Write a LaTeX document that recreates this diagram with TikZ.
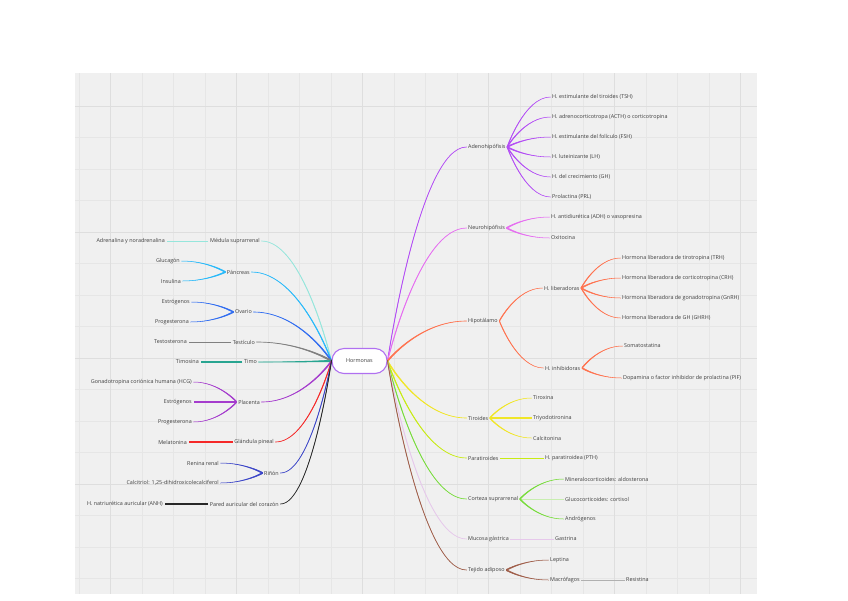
\documentclass[tikz,border=0pt]{standalone}
\usepackage{fontspec}
\setmainfont{Open Sans}
\usetikzlibrary{calc}
\definecolor{bg}{HTML}{F0F0F0}
\definecolor{gridc}{HTML}{E6E6E6}
\definecolor{gridm}{HTML}{DEDEDE}
\definecolor{txt}{HTML}{3E3E3E}
\definecolor{cHub}{HTML}{B070F0}
\definecolor{cAdeno}{HTML}{B34DF5}
\definecolor{cNeuro}{HTML}{E66EF0}
\definecolor{cHipo}{HTML}{FF7350}
\definecolor{cTiro}{HTML}{F0E628}
\definecolor{cPara}{HTML}{C8EB14}
\definecolor{cCort}{HTML}{78DC3C}
\definecolor{cCortL}{HTML}{C8EEB0}
\definecolor{cMuc}{HTML}{E6C8EB}
\definecolor{cAdip}{HTML}{A05F4B}
\definecolor{cMed}{HTML}{96E6DC}
\definecolor{cPan}{HTML}{28B9FA}
\definecolor{cOva}{HTML}{326EF0}
\definecolor{cTes}{HTML}{808080}
\definecolor{cTimo}{HTML}{28A591}
\definecolor{cPlac}{HTML}{A53CCD}
\definecolor{cPin}{HTML}{F52828}
\definecolor{cRin}{HTML}{3C46C8}
\definecolor{cCor}{HTML}{282828}
\definecolor{cRes}{HTML}{B0B0B0}
\begin{document}
\begin{tikzpicture}[x=1pt,y=-1pt,
  lbl/.style={font=\fontsize{5.4}{6.5}\selectfont, text=txt, inner sep=1.5pt},
  rl/.style={lbl, anchor=west},
  ll/.style={lbl, anchor=east},
  taper/.code={\def\tapw{#1}}, taper=1.3,
  br/.style={fill, line width=0.5pt, line join=round, to path={let \p1=(\tikztostart), \p2=(\tikztotarget), \p3=({\x2+0.6*(\x1-\x2)},\y2) in -- (\x1,{\y1+\tapw*0.5pt}) .. controls (\x1,{\y1+\tapw*0.5pt}) and (\p3) .. (\p2) .. controls (\p3) and (\x1,{\y1-\tapw*0.5pt}) .. (\x1,{\y1-\tapw*0.5pt}) -- cycle}},
  mainbr/.style={br, taper=1.6, line width=0.65pt},
  st/.style={line width=0.5pt},
  hubbox/.style={draw=cHub, line width=1.1pt, fill=white, rounded corners=12pt, minimum width=55pt, minimum height=25pt, font=\fontsize{5.4}{6.5}\selectfont, text=txt, inner sep=1pt}
]
\useasboundingbox (0,0) rectangle (848,600);
\fill[bg] (75,73) rectangle (757,594);
\foreach \k in {-1,...,20} \draw[gridc, line width=0.5pt] ({110.6+31.5*\k},73) -- ({110.6+31.5*\k},594);
\foreach \k in {0,...,15} \draw[gridc, line width=0.5pt] (75,{106+31.5*\k}) -- (757,{106+31.5*\k});
\foreach \k in {0,...,5} \draw[gridm, line width=0.8pt] ({110.6+126*\k},73) -- ({110.6+126*\k},594);
\foreach \k in {0,...,3} \draw[gridm, line width=0.8pt] (75,{106+126*\k}) -- (757,{106+126*\k});

% center
\node[hubbox] (hor) at (359.5,361) {Hormonas};

% right side
\node[rl] (adeno) at (466.5,147) {Adenohipófisis};
\node[rl] (a1) at (550.5,97) {H. estimulante del tiroides (TSH)};
\node[rl] (a2) at (550.5,117) {H. adrenocorticotropa (ACTH) o corticotropina};
\node[rl] (a3) at (550.5,137) {H. estimulante del folículo (FSH)};
\node[rl] (a4) at (550.5,157) {H. luteinizante (LH)};
\node[rl] (a5) at (550.5,177) {H. del crecimiento (GH)};
\node[rl] (a6) at (550.5,197) {Prolactina (PRL)};

\node[rl] (neuro) at (466.5,228) {Neurohipófisis};
\node[rl] (n1) at (549.5,217) {H. antidiurética (ADH) o vasopresina};
\node[rl] (n2) at (549.5,238) {Oxitocina};

\node[rl] (hipo) at (466.5,321) {Hipotálamo};
\node[rl] (lib) at (542.5,288) {H. liberadoras};
\node[rl] (l1) at (620.5,258) {Hormona liberadora de tirotropina (TRH)};
\node[rl] (l2) at (620.5,278) {Hormona liberadora de corticotropina (CRH)};
\node[rl] (l3) at (620.5,298) {Hormona liberadora de gonadotropina (GnRH)};
\node[rl] (l4) at (620.5,318) {Hormona liberadora de GH (GHRH)};
\node[rl] (inh) at (543.5,368) {H. inhibidoras};
\node[rl] (i1) at (622.5,346) {Somatostatina};
\node[rl] (i2) at (621.5,378) {Dopamina o factor inhibidor de prolactina (PIF)};

\node[rl] (tiro) at (466.5,418) {Tiroides};
\node[rl] (t1) at (531.5,398) {Tiroxina};
\node[rl] (t2) at (531.5,418) {Triyodotironina};
\node[rl] (t3) at (531.5,438) {Calcitonina};

\node[rl] (para) at (466.5,458) {Paratiroides};
\node[rl] (p1) at (543.5,458) {H. paratiroidea (PTH)};

\node[rl] (cort) at (466.5,499) {Corteza suprarrenal};
\node[rl] (c1) at (563.5,479) {Mineralocorticoides: aldosterona};
\node[rl] (c2) at (563.5,499) {Glucocorticoides: cortisol};
\node[rl] (c3) at (563.5,519) {Andrógenos};

\node[rl] (muc) at (466.5,539) {Mucosa gástrica};
\node[rl] (m1) at (553.5,539) {Gastrina};

\node[rl] (adip) at (466.5,570) {Tejido adiposo};
\node[rl] (d1) at (548.5,560) {Leptina};
\node[rl] (d2) at (548.5,580) {Macrófagos};
\node[rl] (d3) at (624.5,580) {Resistina};

% left side
\node[ll] (med) at (261.5,241) {Médula suprarrenal};
\node[ll] (me1) at (166.5,241) {Adrenalina y noradrenalina};
\node[ll] (pan) at (251.5,272) {Páncreas};
\node[ll] (pa1) at (181.5,261) {Glucagón};
\node[ll] (pa2) at (182.5,281) {Insulina};
\node[ll] (ova) at (253.5,312) {Ovario};
\node[ll] (o1) at (191.5,302) {Estrógenos};
\node[ll] (o2) at (190.5,322) {Progesterona};
\node[ll] (tes) at (256.5,342) {Testículo};
\node[ll] (te1) at (188.5,342) {Testosterona};
\node[ll] (timo) at (258.5,362) {Timo};
\node[ll] (ti1) at (200.5,362) {Timosina};
\node[ll] (plac) at (261.5,402) {Placenta};
\node[ll] (pl1) at (193.5,382) {Gonadotropina coriónica humana (HCG)};
\node[ll] (pl2) at (193.5,402) {Estrógenos};
\node[ll] (pl3) at (193.5,422) {Progesterona};
\node[ll] (pin) at (275.5,442) {Glándula pineal};
\node[ll] (pi1) at (188.5,442) {Melatonina};
\node[ll] (rin) at (280.5,473) {Riñón};
\node[ll] (r1) at (220.5,463) {Renina renal};
\node[ll] (r2) at (220.5,483) {Calcitriol: 1,25-dihidroxicolecalciferol};
\node[ll] (cor) at (280.5,504) {Pared auricular del corazón};
\node[ll] (co1) at (164.5,504) {H. natriurética auricular (ANH)};

% right connectors
\draw[mainbr,cAdeno] (hor.east) to (adeno.west);
\foreach \q in {a1,a2,a3,a4,a5,a6} \draw[br,cAdeno] (adeno.east) to (\q.west);
\draw[mainbr,cNeuro] (hor.east) to (neuro.west);
\foreach \q in {n1,n2} \draw[br,cNeuro] (neuro.east) to (\q.west);
\draw[mainbr,cHipo] (hor.east) to (hipo.west);
\draw[br,cHipo] (hipo.east) to (lib.west);
\draw[br,cHipo] (hipo.east) to (inh.west);
\foreach \q in {l1,l2,l3,l4} \draw[br,cHipo] (lib.east) to (\q.west);
\foreach \q in {i1,i2} \draw[br,cHipo] (inh.east) to (\q.west);
\draw[mainbr,cTiro] (hor.east) to (tiro.west);
\draw[br,cTiro] (tiro.east) to (t1.west);
\draw[st,cTiro,line width=1.1pt] (tiro.east) -- (t2.west);
\draw[br,cTiro] (tiro.east) to (t3.west);
\draw[mainbr,cPara] (hor.east) to (para.west);
\draw[st,cPara,line width=1pt] (para.east) -- (p1.west);
\draw[mainbr,cCort] (hor.east) to (cort.west);
\draw[br,cCort] (cort.east) to (c1.west);
\draw[st,cCortL,line width=0.45pt] (cort.east) -- (c2.west);
\draw[br,cCort] (cort.east) to (c3.west);
\draw[mainbr,cMuc] (hor.east) to (muc.west);
\draw[st,cMuc,line width=0.45pt] (muc.east) -- (m1.west);
\draw[mainbr,cAdip] (hor.east) to (adip.west);
\foreach \q in {d1,d2} \draw[br,cAdip] (adip.east) to (\q.west);
\draw[st,cRes,line width=0.45pt] (d2.east) -- (d3.west);

% left connectors
\draw[mainbr,cMed] (hor.west) to (med.east);
\draw[st,cMed,line width=0.5pt] (med.west) -- (me1.east);
\draw[mainbr,cPan] (hor.west) to (pan.east);
\foreach \q in {pa1,pa2} \draw[br,cPan] (pan.west) to (\q.east);
\draw[mainbr,cOva] (hor.west) to (ova.east);
\foreach \q in {o1,o2} \draw[br,cOva] (ova.west) to (\q.east);
\draw[mainbr,cTes] (hor.west) to (tes.east);
\draw[st,cTes,line width=0.5pt] (tes.west) -- (te1.east);
\draw[mainbr,cTimo] (hor.west) to (timo.east);
\draw[st,cTimo,line width=1.2pt] (timo.west) -- (ti1.east);
\draw[mainbr,cPlac] (hor.west) to (plac.east);
\draw[br,cPlac] (plac.west) to (pl1.east);
\draw[st,cPlac,line width=1.3pt] (plac.west) -- (pl2.east);
\draw[br,cPlac] (plac.west) to (pl3.east);
\draw[mainbr,cPin] (hor.west) to (pin.east);
\draw[st,cPin,line width=1.1pt] (pin.west) -- (pi1.east);
\draw[mainbr,cRin] (hor.west) to (rin.east);
\foreach \q in {r1,r2} \draw[br,cRin] (rin.west) to (\q.east);
\draw[mainbr,cCor] (hor.west) to (cor.east);
\draw[st,cCor,line width=1.5pt] (cor.west) -- (co1.east);
\end{tikzpicture}
\end{document}
